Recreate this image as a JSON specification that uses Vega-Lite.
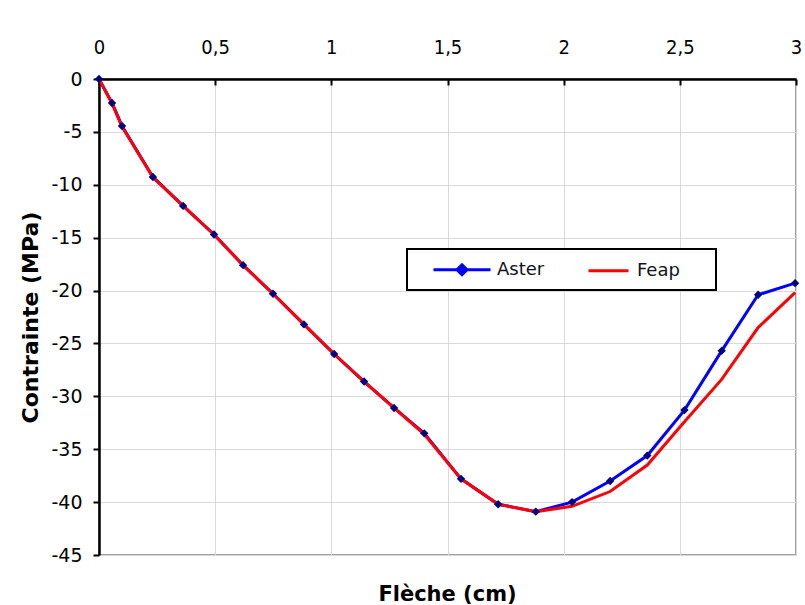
{
  "$schema": "https://vega.github.io/schema/vega-lite/v6.json",
  "autosize": {"type": "none"},
  "width": 697,
  "height": 476,
  "padding": {"left": 99, "top": 79, "right": 9, "bottom": 50},
  "background": "white",
  "title": {"text": "Flèche (cm)", "orient": "bottom", "anchor": "middle", "offset": 19, "font": "DejaVu Sans", "fontSize": 21, "fontWeight": "bold", "color": "black"},
  "config": {
    "view": {"stroke": "#a0a0a0", "strokeWidth": 2},
    "axis": {"gridColor": "#d9d9d9", "gridWidth": 1, "domainColor": "black", "domainWidth": 2.5, "tickColor": "black", "tickWidth": 2, "labelColor": "black", "labelFont": "DejaVu Sans", "titleFont": "DejaVu Sans", "titleColor": "black"}
  },
  "data": {"values": [
    {"x": 0, "y": 0, "series": "Aster"},
    {"x": 0.056, "y": -2.27, "series": "Aster"},
    {"x": 0.099, "y": -4.44, "series": "Aster"},
    {"x": 0.232, "y": -9.26, "series": "Aster"},
    {"x": 0.362, "y": -12.0, "series": "Aster"},
    {"x": 0.495, "y": -14.7, "series": "Aster"},
    {"x": 0.62, "y": -17.6, "series": "Aster"},
    {"x": 0.749, "y": -20.3, "series": "Aster"},
    {"x": 0.882, "y": -23.2, "series": "Aster"},
    {"x": 1.012, "y": -26.0, "series": "Aster"},
    {"x": 1.141, "y": -28.6, "series": "Aster"},
    {"x": 1.27, "y": -31.1, "series": "Aster"},
    {"x": 1.40, "y": -33.5, "series": "Aster"},
    {"x": 1.558, "y": -37.8, "series": "Aster"},
    {"x": 1.718, "y": -40.2, "series": "Aster"},
    {"x": 1.88, "y": -40.9, "series": "Aster"},
    {"x": 2.036, "y": -40.0, "series": "Aster"},
    {"x": 2.20, "y": -38.0, "series": "Aster"},
    {"x": 2.36, "y": -35.6, "series": "Aster"},
    {"x": 2.52, "y": -31.3, "series": "Aster"},
    {"x": 2.68, "y": -25.7, "series": "Aster"},
    {"x": 2.837, "y": -20.4, "series": "Aster"},
    {"x": 2.996, "y": -19.3, "series": "Aster"},
    {"x": 0, "y": 0, "series": "Feap"},
    {"x": 0.056, "y": -2.3, "series": "Feap"},
    {"x": 0.099, "y": -4.5, "series": "Feap"},
    {"x": 0.232, "y": -9.3, "series": "Feap"},
    {"x": 0.362, "y": -12.0, "series": "Feap"},
    {"x": 0.495, "y": -14.7, "series": "Feap"},
    {"x": 0.62, "y": -17.6, "series": "Feap"},
    {"x": 0.749, "y": -20.3, "series": "Feap"},
    {"x": 0.882, "y": -23.2, "series": "Feap"},
    {"x": 1.012, "y": -26.0, "series": "Feap"},
    {"x": 1.141, "y": -28.6, "series": "Feap"},
    {"x": 1.27, "y": -31.1, "series": "Feap"},
    {"x": 1.40, "y": -33.6, "series": "Feap"},
    {"x": 1.558, "y": -37.8, "series": "Feap"},
    {"x": 1.718, "y": -40.2, "series": "Feap"},
    {"x": 1.88, "y": -40.9, "series": "Feap"},
    {"x": 2.036, "y": -40.4, "series": "Feap"},
    {"x": 2.20, "y": -39.0, "series": "Feap"},
    {"x": 2.36, "y": -36.5, "series": "Feap"},
    {"x": 2.52, "y": -32.4, "series": "Feap"},
    {"x": 2.68, "y": -28.4, "series": "Feap"},
    {"x": 2.837, "y": -23.5, "series": "Feap"},
    {"x": 2.996, "y": -20.2, "series": "Feap"}
  ]},
  "encoding": {
    "x": {"field": "x", "type": "quantitative", "scale": {"domain": [0, 3], "nice": false, "zero": false},
      "axis": {"orient": "top", "title": null, "values": [0, 0.5, 1, 1.5, 2, 2.5, 3], "labelExpr": "replace(datum.value + '', '.', ',')", "labelFontSize": 20, "labelFont": "DejaVu Sans Condensed", "tickSize": -6, "labelPadding": 28, "labelFlush": false}},
    "y": {"field": "y", "type": "quantitative", "scale": {"domain": [-45, 0], "nice": false},
      "axis": {"title": "Contrainte (MPa)", "titleFontSize": 22, "titleFontWeight": "bold", "titlePadding": 8, "values": [0, -5, -10, -15, -20, -25, -30, -35, -40, -45], "labelExpr": "datum.value + ''", "labelFontSize": 19, "tickSize": 6, "labelPadding": 11}}
  },
  "layer": [
    {
      "mark": {"type": "line", "strokeWidth": 3},
      "encoding": {
        "color": {"field": "series", "type": "nominal",
          "scale": {"domain": ["Aster", "Feap"], "range": ["#0000ff", "#ff0000"]},
          "legend": {
            "orient": "none", "legendX": 308, "legendY": 170, "direction": "horizontal",
            "title": "\u00a0", "titleOrient": "right", "titleFontSize": 12, "titlePadding": 27, "titleColor": "white",
            "padding": 9, "symbolSize": 400, "symbolStrokeWidth": 3, "labelFontSize": 18, "labelFont": "DejaVu Sans", "labelColor": "#111122", "labelOffset": 58, "columnPadding": 11,
            "encode": {
              "legend": {"update": {"stroke": {"value": "black"}, "strokeWidth": {"value": 2}, "fill": {"value": "white"}}},
              "symbols": {"update": {
                "shape": {"signal": "datum.value === 'Aster' ? 'M0.6,0H6.3M3.45,-0.5L3.95,0L3.45,0.5L2.95,0Z' : 'M2.1,0H6.1'"},
                "fill": {"signal": "datum.value === 'Aster' ? '#000080' : 'transparent'"}
              }}
            }
          }}
      }
    },
    {
      "transform": [{"filter": "datum.series === 'Aster'"}],
      "mark": {"type": "point", "shape": "diamond", "filled": true, "color": "#000080", "size": 70, "opacity": 1}
    }
  ]
}
